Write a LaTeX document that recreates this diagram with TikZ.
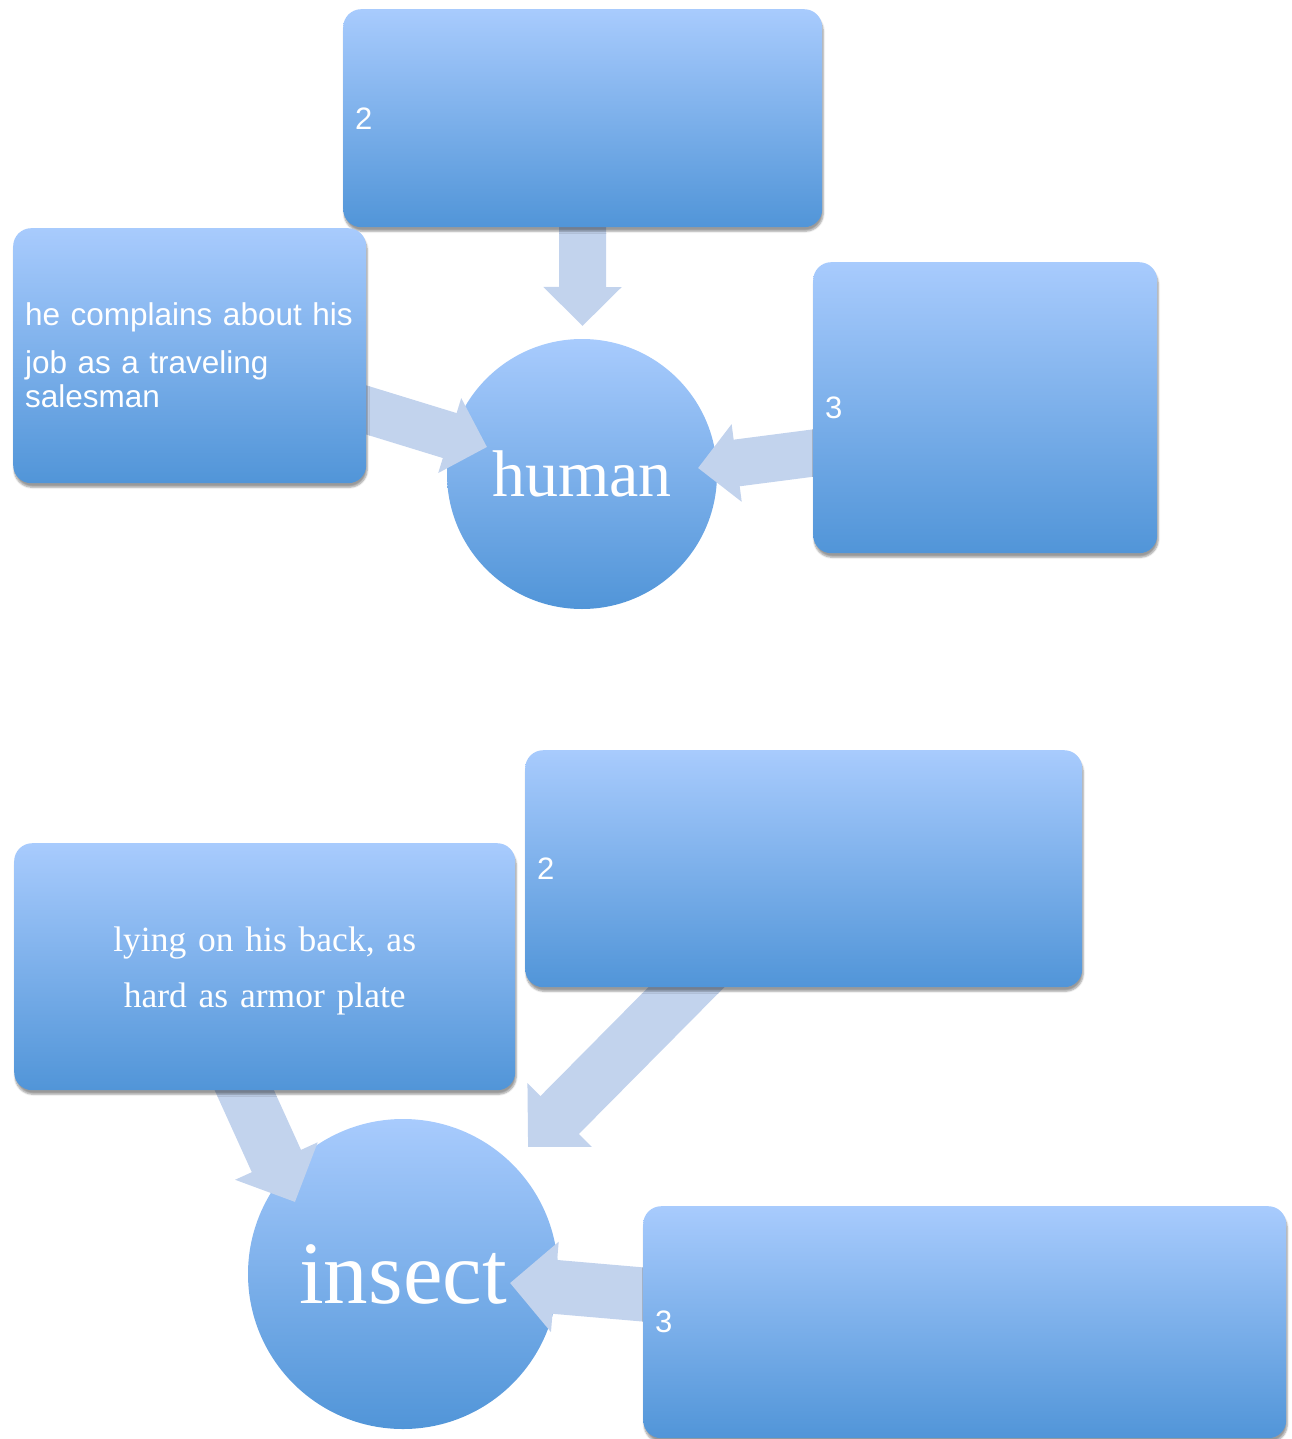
\documentclass[tikz,border=0pt]{standalone}
\usepackage{fontspec}
\setmainfont{Liberation Serif}
\setsansfont{Liberation Sans}
\usetikzlibrary{arrows.meta,shadows.blur}

\definecolor{boxtop}{RGB}{168,203,253}
\definecolor{boxbot}{RGB}{81,149,216}
\definecolor{arrfill}{RGB}{194,211,237}

\pgfdeclarelayer{front}
\pgfsetlayers{main,front}

\tikzset{
  blok/.style={rectangle, rounded corners=18pt, top color=boxtop, bottom color=boxbot,
    text=white, anchor=north west, align=left, inner xsep=12pt,
    font=\sffamily\fontsize{31}{34}\selectfont,
    blur shadow={shadow xshift=1pt, shadow yshift=-4pt, shadow opacity=40, shadow blur steps=6}},
  kern/.style={circle, top color=boxtop, bottom color=boxbot, text=white, inner sep=0pt},
  pijl/.style={draw=arrfill, line width=47pt, -{Triangle[length=39pt,width=76pt]}},
  grotepijl/.style={draw=arrfill, line width=54pt, -{Triangle[length=45pt,width=88pt]}},
}

\begin{document}
\begin{tikzpicture}[x=1pt,y=-1pt]
    \useasboundingbox (0,0) rectangle (1291,1439);

    % 円の描画
    \node[kern, minimum size=270pt, font=\fontsize{66}{70}\selectfont] (mens) at (582,474) {human};
    \node[kern, minimum size=310pt, font=\fontsize{89}{90}\selectfont] (insekt) at (403,1274) {insect};

    % 矢印の先端
    \coordinate (p1) at (582.5,326);
    \coordinate (p2) at (487,447);
    \coordinate (p3) at (698,468);
    \coordinate (p4) at (295,1202);
    \coordinate (p5) at (528,1147);
    \coordinate (p6) at (510,1283);

    % 四角の描画
    \begin{pgfonlayer}{front}
    \node[blok, minimum width=479pt, minimum height=218pt, text width=455pt] (twee) at (343,9) {2};
    \node[blok, minimum width=353pt, minimum height=255pt, text width=329pt, inner xsep=12pt,
      font=\sffamily\fontsize{31.5}{34}\selectfont] (klacht) at (13,228)
      {he complains about his\\[14pt]job as a traveling\\salesman};
    \node[blok, minimum width=344pt, minimum height=291pt, text width=320pt] (drie) at (813,262) {3};

    \node[blok, minimum width=501pt, minimum height=247pt, text width=477pt, align=center,
      font=\rmfamily\fontsize{35.5}{56}\selectfont] (rug) at (14,843)
      {\rule{0pt}{10pt}\\[-32pt]lying on his back, as\\hard as armor plate};
    \node[blok, minimum width=557pt, minimum height=237pt, text width=533pt] (twee2) at (525,750) {2};
    \node[blok, minimum width=643pt, minimum height=232pt, text width=619pt] (drie2) at (643,1206) {3};
    \end{pgfonlayer}

    % 矢印の描画
    \draw[pijl] (twee.center) -- (p1);
    \draw[pijl] (klacht.center) -- (p2);
    \draw[pijl] ([yshift=-23pt]drie.center) -- (p3);

    \draw[grotepijl] ([xshift=-61pt,yshift=-34pt]rug.center) -- (p4);
    \draw[grotepijl] (twee2.center) -- (p5);
    \draw[grotepijl] (drie2.center) -- (p6);

\end{tikzpicture}
\end{document}
